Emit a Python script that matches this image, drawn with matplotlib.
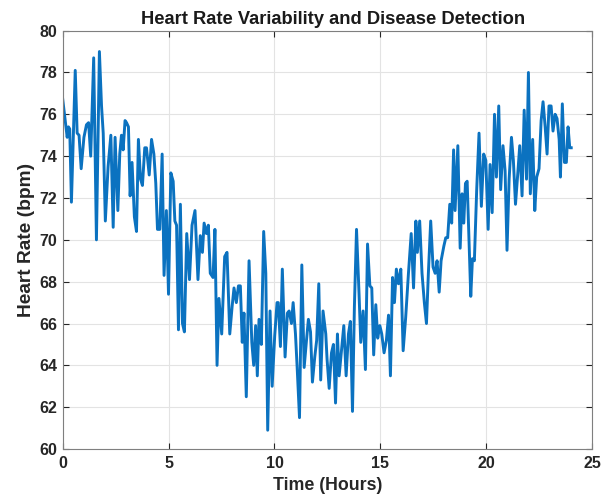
import matplotlib
matplotlib.use("Agg")
import matplotlib.pyplot as plt

hours = [0.0, 0.16, 0.22, 0.28, 0.34, 0.42, 0.6, 0.69, 0.78, 0.88, 1.01, 1.13, 1.23, 1.33, 1.47,
         1.6, 1.74, 1.84, 1.92, 2.02, 2.15, 2.28, 2.39, 2.48, 2.61, 2.7, 2.78, 2.86, 2.95, 3.02,
         3.11, 3.19, 3.28, 3.39, 3.49, 3.58, 3.68, 3.77, 3.88, 3.96, 4.09, 4.2, 4.31, 4.4, 4.48,
         4.59, 4.7, 4.79, 4.9, 5.0, 5.11, 5.22, 5.3, 5.38, 5.47, 5.56, 5.66, 5.75, 5.86, 5.99,
         6.11, 6.25, 6.39, 6.5, 6.6, 6.68, 6.79, 6.88, 6.97, 7.1, 7.19, 7.29, 7.38, 7.51, 7.65,
         7.76, 7.89, 8.0, 8.09, 8.2, 8.3, 8.39, 8.48, 8.56, 8.67, 8.8, 8.93, 9.02, 9.11, 9.19,
         9.27, 9.38, 9.49, 9.59, 9.68, 9.79, 9.89, 10.01, 10.12, 10.18, 10.28, 10.37, 10.5, 10.61,
         10.69, 10.8, 10.88, 10.99, 11.07, 11.18, 11.29, 11.4, 11.51, 11.6, 11.7, 11.79, 11.9,
         11.99, 12.09, 12.18, 12.29, 12.42, 12.48, 12.58, 12.69, 12.78, 12.88, 12.97, 13.05,
         13.27, 13.38, 13.49, 13.58, 13.68, 13.77, 13.87, 13.99, 14.07, 14.18, 14.29,
         14.39, 14.5, 14.59, 14.68, 14.78, 14.87, 14.97, 15.06, 15.17, 15.28, 15.38, 15.47,
         15.57, 15.66, 15.75, 15.85, 15.96, 16.07, 16.19, 16.32, 16.45, 16.56, 16.67, 16.74,
         16.85, 16.96, 17.07, 17.17, 17.26, 17.37, 17.48, 17.58, 17.67, 17.77, 17.86, 17.99,
         18.08, 18.17, 18.27, 18.36, 18.45, 18.52, 18.65, 18.76, 18.85, 18.93, 19.01, 19.09,
         19.26, 19.34, 19.43, 19.54, 19.65, 19.76, 19.87, 19.97, 20.08, 20.17, 20.27, 20.38,
         20.47, 20.58, 20.67, 20.78, 20.88, 20.97, 21.07, 21.18, 21.27, 21.37, 21.48, 21.57,
         21.68, 21.78, 21.89, 21.98, 22.07, 22.18, 22.28, 22.37, 22.48, 22.58, 22.67, 22.77,
         22.86, 22.95, 23.05, 23.14, 23.24, 23.33, 23.43, 23.49, 23.58, 23.68, 23.77, 23.85,
         23.93, 24.0]

heart_rate = [76.8, 75.4, 74.9, 75.4, 75.3, 71.8, 78.1, 75.1, 75.0, 73.4, 74.9, 75.5, 75.6, 74.0, 78.7,
              70.0, 79.0, 76.4, 75.1, 70.9, 73.5, 75.0, 70.6, 74.9, 71.4, 74.1, 75.0, 74.3, 75.7, 75.6,
              75.4, 72.1, 73.7, 71.1, 70.4, 74.8, 72.9, 72.6, 74.4, 74.4, 73.1, 74.8, 74.1, 72.7, 70.5,
              70.5, 74.1, 68.3, 71.4, 67.4, 73.2, 72.8, 70.9, 70.7, 65.7, 71.7, 66.0, 65.6, 70.3, 68.1,
              70.7, 71.4, 68.1, 70.2, 69.4, 70.8, 70.3, 70.7, 68.4, 68.2, 70.5, 64.0, 67.2, 65.5, 69.2,
              69.4, 65.5, 66.8, 67.7, 67.0, 67.8, 67.8, 65.1, 66.5, 62.5, 69.0, 65.1, 64.0, 65.9, 63.5,
              66.2, 65.0, 70.4, 68.4, 60.9, 66.6, 63.0, 65.4, 67.0, 67.0, 64.9, 68.6, 64.4, 66.5,
              66.6, 66.0, 67.0, 65.5, 63.9, 61.5, 68.8, 63.9, 65.2, 66.2, 65.6, 63.2, 64.4,
              65.2, 67.9, 63.3, 66.6, 65.5, 64.3, 62.9, 64.6, 65.0, 62.2, 65.5, 63.5,
              65.9, 63.5, 65.5, 66.1, 61.8, 66.8, 70.5, 67.4, 65.1, 66.6, 63.8,
              69.8, 67.8, 67.7, 64.5, 66.9, 65.3, 65.9, 65.5, 64.6, 65.2, 66.4, 63.5,
              68.2, 67.0, 68.6, 67.9, 68.6, 64.7, 66.3, 68.4, 70.3, 67.7, 70.9, 69.4,
              70.9, 68.4, 67.0, 66.0, 68.4, 70.9, 68.7, 68.4, 69.0, 67.5, 69.0, 69.7,
              70.1, 70.1, 71.7, 70.8, 74.3, 71.4, 74.5, 69.6, 72.2, 70.8, 72.7, 72.8,
              67.3, 69.1, 69.0, 72.4, 75.1, 71.6, 74.1, 73.8, 70.5, 73.6, 71.3, 76.0,
              73.0, 76.4, 72.4, 74.5, 73.3, 69.5, 72.9, 74.9, 73.8, 71.7, 73.2, 74.5,
              72.1, 76.2, 72.9, 78.0, 72.2, 74.8, 71.4, 73.0, 73.4, 75.7, 76.6, 75.4,
              74.1, 76.4, 76.4, 75.2, 76.0, 75.8, 74.8, 73.0, 76.5, 73.7, 73.7, 75.4,
              74.4, 74.4]

x_ticks = [0, 5, 10, 15, 20, 25]
y_ticks = [60, 62, 64, 66, 68, 70, 72, 74, 76, 78, 80]
title_text = "Heart Rate Variability and Disease Detection"
x_label = "Time (Hours)"
y_label = "Heart Rate (bpm)"

plt.rcParams['font.family'] = ['Liberation Sans', 'DejaVu Sans']
plt.rcParams['font.weight'] = 'bold'

fig = plt.figure(figsize=(6.07, 4.94), dpi=100)
ax = fig.add_axes([0.103, 0.091, 0.873, 0.847])
ax.plot(hours, heart_rate, color='#0b72c0', linewidth=2.1)
ax.set_xlim(0, 25)
ax.set_ylim(60, 80)
ax.set_xticks(x_ticks)
ax.set_yticks(y_ticks)
ax.grid(True, color='#e3e3e3', linewidth=0.8)
ax.set_axisbelow(True)
axis_col = '#262626'
for s in ax.spines.values():
    s.set_color('#7f7f7f')
    s.set_linewidth(0.8)
ax.tick_params(axis='both', direction='in', length=4, width=0.8, colors=axis_col, labelsize=11.5,
               top=True, right=True)
ax.tick_params(axis='x', pad=5)
ax.tick_params(axis='y', pad=4)
for lab in ax.get_xticklabels() + ax.get_yticklabels():
    lab.set_fontweight('bold')
ax.set_xlabel(x_label, fontsize=12.8, fontweight='bold', color=axis_col, labelpad=4)
ax.set_ylabel(y_label, fontsize=13.8, fontweight='bold', color=axis_col, labelpad=3)
ax.set_title(title_text, fontsize=13.2, fontweight='bold', color='#1a1a1a', pad=5, x=0.51)
fig.savefig("out.png", dpi=100)
